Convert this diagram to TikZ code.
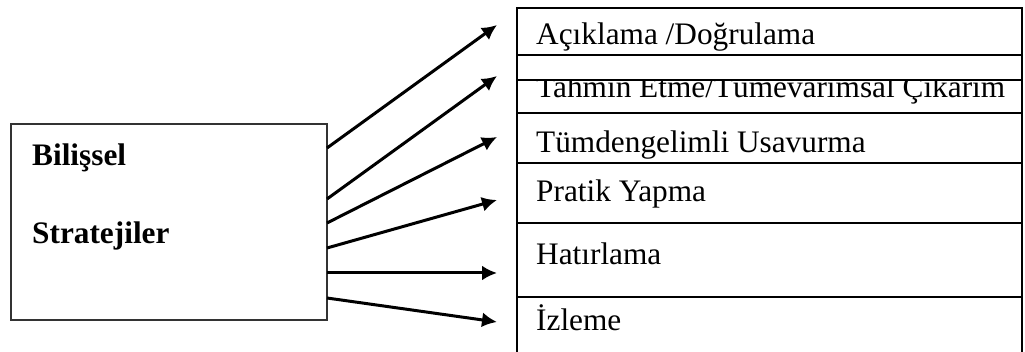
\documentclass[tikz,border=0pt]{standalone}
\usepackage{fontspec}
\setmainfont{Liberation Serif}
\usepackage{tikz}
\usetikzlibrary{arrows.meta}
\usetikzlibrary{positioning}

\begin{document}
\begin{tikzpicture}[x=1pt,y=-1pt]
\tikzstyle{cell}=[rectangle,draw,line width=2.6pt,minimum width=505pt,
inner sep=0pt,outer sep=0pt]
\tikzstyle{entry}=[anchor=base west,inner sep=0pt,
font=\fontsize{31.3}{36}\selectfont]
\tikzstyle{link}=[line width=3pt,-{Latex[length=15pt,width=15pt]}]

\useasboundingbox (0,0) rectangle (1025,352);

\node[rectangle,draw=black!80,line width=2pt,outer sep=0pt,
minimum width=316pt,minimum height=196pt,anchor=north west] (strategies) at (11,124) {};
\node[entry,font=\fontsize{31.3}{36}\selectfont\bfseries] (bilissel) at (32,166) {Bilişsel};
\node[entry,font=\fontsize{31.3}{36}\selectfont\bfseries] (stratejiler) at (32,244) {Stratejiler};

% right hand column
\node[cell,minimum height=47pt,anchor=north west] (aciklama) at (517,8) {};
\node[cell,minimum height=25pt] (gap) [below=0pt of aciklama] {};
\node[cell,minimum height=33pt] (tahmin) [below=0pt of gap] {};
\node[cell,minimum height=50pt] (tumden) [below=0pt of tahmin] {};
\node[cell,minimum height=60pt] (pratik) [below=0pt of tumden] {};
\node[cell,minimum height=74pt] (hatirlama) [below=0pt of pratik] {};
\draw[line width=2.6pt] (hatirlama.south west) -- ++(0,57)
(hatirlama.south east) -- ++(0,57);

\node[entry] (t1) at (536,45) {Açıklama /Doğrulama};
\begin{scope}
\clip ([yshift=-1.3pt]tahmin.north west) rectangle (tahmin.south east);
\node[entry] (t2) at (536,98) {Tahmın Etme/Tümevarımsal Çıkarım};
\end{scope}
\node[entry] (t3) at (536,153) {Tümdengelimli Usavurma};
\node[entry] (t4) at (536,202) {Pratik Yapma};
\node[entry] (t5) at (536,265) {Hatırlama};
\node[entry] (t6) at (536,331) {İzleme};

% arrows out of the box
\foreach \n/\dy/\ty in {1/24/25,2/75/76,3/99/137,4/124/200,5/149/273,6/174/322}
{
\coordinate (tip\n) at (497,\ty);
\draw[link] ([yshift=-\dy pt]strategies.north east) -- (tip\n);
}
\end{tikzpicture}
\end{document}
